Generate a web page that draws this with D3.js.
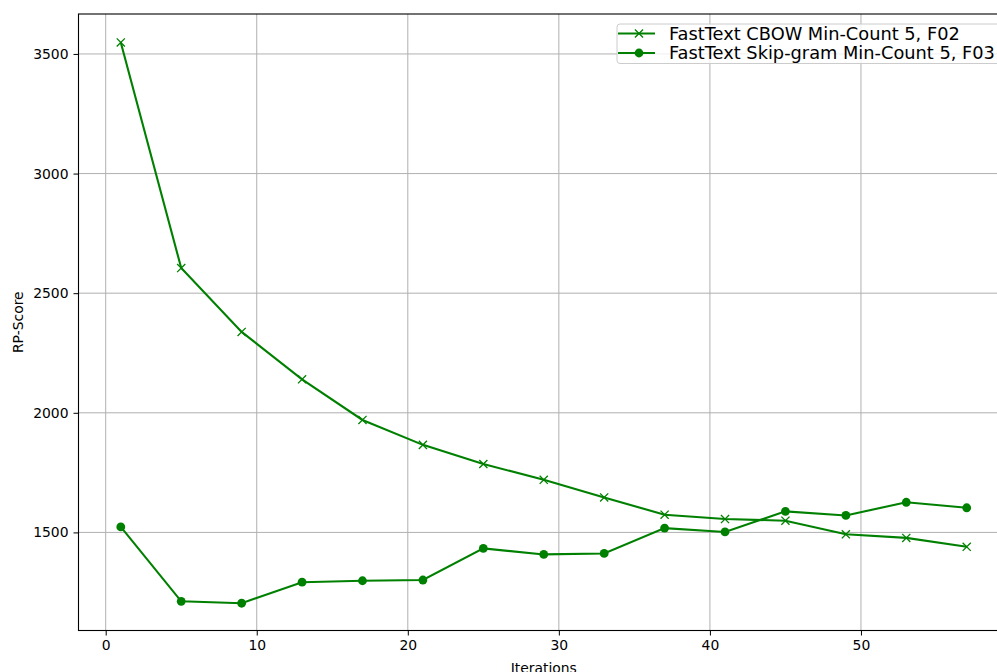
<!DOCTYPE html>
<html>
<head>
<meta charset="utf-8">
<script src="https://cdn.jsdelivr.net/npm/d3@7"></script>
<style>
  body { margin: 0; background: #fff; }
  svg { display: block; font-family: "DejaVu Sans", sans-serif; }
</style>
</head>
<body>
<div id="chart"></div>
<script>
const iterations = [1, 5, 9, 13, 17, 21, 25, 29, 33, 37, 41, 45, 49, 53, 57];
const cbow = [3548, 2605, 2338, 2140, 1970, 1866, 1786, 1720, 1646, 1574, 1556, 1549, 1492, 1477, 1440];
const skipgram = [1523, 1212, 1204, 1292, 1298, 1301, 1433, 1408, 1412, 1518, 1502, 1588, 1571, 1626, 1603];
const seriesNames = ['FastText CBOW Min-Count 5, F02', 'FastText Skip-gram Min-Count 5, F03'];
const xTicks = [0, 10, 20, 30, 40, 50];
const yTicks = [1500, 2000, 2500, 3000, 3500];

const width = 997, height = 672;
const margin = { left: 78.5, top: 14, right: -12, bottom: 41.5 };
const green = '#008000';
const gridCol = '#b0b0b0';

const svg = d3.select('#chart').append('svg')
  .attr('width', width)
  .attr('height', height);

const x = d3.scaleLinear()
  .domain([-1.8, 59.8])
  .range([margin.left, width - margin.right]);
const y = d3.scaleLinear()
  .domain([1090, 3667])
  .range([height - margin.bottom, margin.top]);

// grid
svg.append('g')
  .selectAll('line')
  .data(xTicks)
  .join('line')
  .attr('x1', d => x(d)).attr('x2', d => x(d))
  .attr('y1', margin.top).attr('y2', height - margin.bottom)
  .attr('stroke', gridCol).attr('stroke-width', 1);
svg.append('g')
  .selectAll('line')
  .data(yTicks)
  .join('line')
  .attr('x1', margin.left).attr('x2', width - margin.right)
  .attr('y1', d => y(d)).attr('y2', d => y(d))
  .attr('stroke', gridCol).attr('stroke-width', 1);

// axes
const xAxis = svg.append('g')
  .attr('transform', `translate(0,${height - margin.bottom})`)
  .call(d3.axisBottom(x).tickValues(xTicks).tickSize(5).tickPadding(5).tickFormat(d3.format('d')));
const yAxis = svg.append('g')
  .attr('transform', `translate(${margin.left},0)`)
  .call(d3.axisLeft(y).tickValues(yTicks).tickSize(5).tickPadding(5).tickFormat(d3.format('d')));

[xAxis, yAxis].forEach(a => {
  a.select('.domain').remove();
  a.selectAll('text').style('font-size', '13.9px').attr('fill', '#000')
    .style('font-family', '"DejaVu Sans", sans-serif');
  a.selectAll('line').attr('stroke', '#000').attr('stroke-width', 1);
});

// spines
svg.append('rect')
  .attr('x', margin.left).attr('y', margin.top)
  .attr('width', width - margin.right - margin.left)
  .attr('height', height - margin.bottom - margin.top)
  .attr('fill', 'none').attr('stroke', '#000').attr('stroke-width', 1.1);

// labels
svg.append('text')
  .attr('x', (x(-1.8) + x(59.8)) / 2)
  .attr('y', height + 0.5)
  .attr('text-anchor', 'middle')
  .style('font-size', '13.9px')
  .text('Iterations');
svg.append('text')
  .attr('transform', `translate(23,${(y(1090) + y(3667)) / 2}) rotate(-90)`)
  .attr('text-anchor', 'middle')
  .style('font-size', '13.9px')
  .text('RP-Score');

const line = d3.line()
  .x((d, i) => x(iterations[i]))
  .y(d => y(d));

// CBOW series
svg.append('path')
  .datum(cbow)
  .attr('d', line)
  .attr('fill', 'none')
  .attr('stroke', green)
  .attr('stroke-width', 2.1);
const cross = d3.symbol().type(d3.symbolX).size(45);
svg.append('g')
  .selectAll('path')
  .data(cbow)
  .join('path')
  .attr('transform', (d, i) => `translate(${x(iterations[i])},${y(d)})`)
  .attr('d', cross)
  .attr('fill', 'none')
  .attr('stroke', green)
  .attr('stroke-width', 1.3);

// Skip-gram series
svg.append('path')
  .datum(skipgram)
  .attr('d', line)
  .attr('fill', 'none')
  .attr('stroke', green)
  .attr('stroke-width', 2.1);
svg.append('g')
  .selectAll('circle')
  .data(skipgram)
  .join('circle')
  .attr('cx', (d, i) => x(iterations[i]))
  .attr('cy', d => y(d))
  .attr('r', 4.4)
  .attr('fill', green);

// legend
const legend = svg.append('g').attr('transform', 'translate(617,24)');
legend.append('rect')
  .attr('width', 400).attr('height', 39.5)
  .attr('rx', 3)
  .attr('fill', '#fff').attr('fill-opacity', 0.8)
  .attr('stroke', '#ccc').attr('stroke-width', 1);
const rows = legend.selectAll('g.row')
  .data(seriesNames)
  .join('g')
  .attr('class', 'row')
  .attr('transform', (d, i) => `translate(0,${9.5 + i * 19.5})`);
rows.append('line')
  .attr('x1', 1).attr('x2', 38)
  .attr('stroke', green).attr('stroke-width', 2.1);
rows.filter((d, i) => i === 0).append('path')
  .attr('transform', 'translate(22,0)')
  .attr('d', cross)
  .attr('fill', 'none').attr('stroke', green).attr('stroke-width', 1.3);
rows.filter((d, i) => i === 1).append('circle')
  .attr('cx', 22).attr('r', 4.4).attr('fill', green);
rows.append('text')
  .attr('x', 52).attr('dy', '0.36em')
  .style('font-size', '17.8px')
  .text(d => d);
</script>
</body>
</html>
